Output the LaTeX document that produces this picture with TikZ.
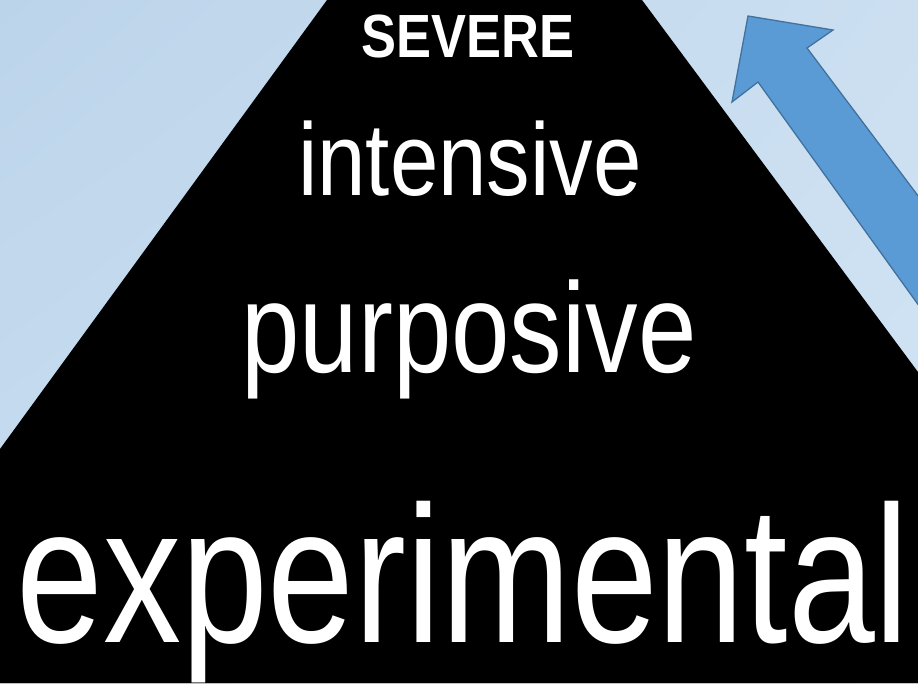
\documentclass[tikz,border=0pt]{standalone}
\usepackage{fontspec}
\setmainfont{Liberation Sans}
\usepackage{graphicx}
\usetikzlibrary{shadings}
\definecolor{skyA}{HTML}{BCD4EA}
\definecolor{skyB}{HTML}{CBDFF1}
\definecolor{skyC}{HTML}{C9DEF1}
\definecolor{skyD}{HTML}{D3E5F5}
\definecolor{arrowblue}{HTML}{5B9BD5}
\definecolor{arrowedge}{HTML}{41719C}
\newcommand{\squeeze}[3]{\scalebox{#1}[1]{\fontsize{#2}{#2}\selectfont #3}}

\begin{document}
\begin{tikzpicture}[x=1pt,y=-1pt,
  word/.style={text=white, anchor=base, inner sep=0pt},
]
\useasboundingbox (0,0) rectangle (918,683);
\clip (0,0) rectangle (918,683);

% ===== background =====
\shade[upper left=skyA, upper right=skyB, lower left=skyC, lower right=skyD]
  (0,0) rectangle (918,683);

% ===== pyramid =====
\fill[black] (327,0) -- (642,0) -- (918,372) -- (918,683) -- (0,683) -- (0,449) -- cycle;

% ===== rising arrow =====
\filldraw[fill=arrowblue, draw=arrowedge, line width=1.3pt, line join=miter]
  (748,16) -- (833,30) -- (807,48) -- (1000,305) -- (940,335) -- (758,82) -- (732,102) -- cycle;

% ===== levels =====
\node[word, font=\bfseries] (sev) at (468,57) {\squeeze{0.86}{61}{SEVERE}};
\node[word] (inten) at (470,195) {\squeeze{0.845}{103}{intensive}};
\node[word] (purp)  at (469,372) {\squeeze{0.82}{128}{purposive}};
\node[word] (expt)  at (463,642) {\squeeze{0.80}{195}{experimental}};
\end{tikzpicture}
\end{document}
